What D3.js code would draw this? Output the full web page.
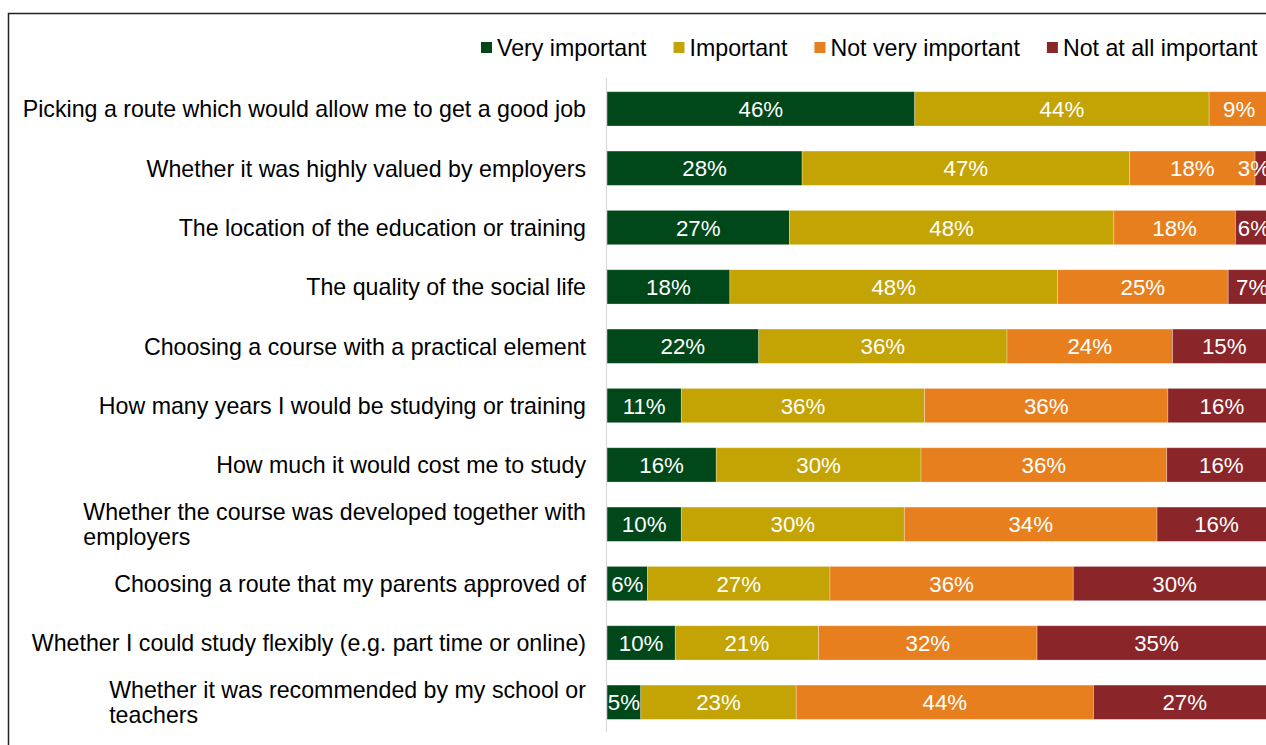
<!DOCTYPE html>
<html>
<head>
<meta charset="utf-8">
<script src="https://cdn.jsdelivr.net/npm/d3@7"></script>
<style>
  html, body { margin: 0; padding: 0; background: #fff; overflow: hidden; }
  svg { display: block; font-family: "Liberation Sans", Arial, sans-serif; }
</style>
</head>
<body>
<svg id="chart" width="1266" height="745"></svg>
<script>
const categories = [
  "Picking a route which would allow me to get a good job",
  "Whether it was highly valued by employers",
  "The location of the education or training",
  "The quality of the social life",
  "Choosing a course with a practical element",
  "How many years I would be studying or training",
  "How much it would cost me to study",
  "Whether the course was developed together with\nemployers",
  "Choosing a route that my parents approved of",
  "Whether I could study flexibly (e.g. part time or online)",
  "Whether it was recommended by my school or\nteachers"
];
const seriesNames = ["Very important", "Important", "Not very important", "Not at all important"];
const seriesColors = ["#00481A", "#C4A304", "#E87F1F", "#8A2529"];
const veryImportant    = [46, 28, 27, 18, 22, 11, 16, 10, 6, 10, 5];
const important        = [44, 47, 48, 48, 36, 36, 30, 30, 27, 21, 23];
const notVeryImportant = [9, 18, 18, 25, 24, 36, 36, 34, 36, 32, 44];
const notAtAll         = [1, 3, 6, 7, 15, 16, 16, 16, 30, 35, 27];

const seriesValues = [veryImportant, important, notVeryImportant, notAtAll];
const rows = categories.map((c, i) => {
  const r = { cat: c };
  seriesNames.forEach((s, j) => r[s] = seriesValues[j][i]);
  return r;
});

const svg = d3.select("#chart");
const plotLeft = 607, plotRight = 1276, plotTop = 79.2, plotBottom = 731.9;
const labelRightLimit = 1270;
const fontSize = 23.2;
const dataFontSize = 22.3;

// frame
svg.append("path")
  .attr("d", "M8.5,745 V13.5 H1266")
  .attr("fill", "none")
  .attr("stroke", "#222")
  .attr("stroke-width", 1.5);

const x = d3.scaleLinear().domain([0, 1]).range([plotLeft, plotRight]);
const y = d3.scaleBand().domain(categories).range([plotTop, plotBottom])
  .paddingInner(0.422).paddingOuter(0.211);

const stack = d3.stack().keys(seriesNames).offset(d3.stackOffsetExpand);
const stacked = stack(rows);

const g = svg.append("g");
stacked.forEach((layer, j) => {
  const lg = g.append("g").attr("fill", seriesColors[j]);
  lg.selectAll("rect").data(layer).join("rect")
    .attr("x", d => x(d[0]))
    .attr("y", d => y(d.data.cat))
    .attr("width", d => x(d[1]) - x(d[0]))
    .attr("height", y.bandwidth())
    .attr("stroke", "#fff")
    .attr("stroke-opacity", 0.35)
    .attr("stroke-width", 0.8);
});

// data labels
stacked.forEach((layer, j) => {
  const key = layer.key;
  layer.forEach(d => {
    const v = d.data[key];
    if (v < 2) return;
    const t = g.append("text")
      .attr("y", y(d.data.cat) + y.bandwidth() / 2)
      .attr("dy", "0.36em")
      .attr("text-anchor", "middle")
      .attr("fill", "#fff")
      .attr("font-size", dataFontSize)
      .text(v + "%");
    const w = t.node().getComputedTextLength();
    let cx = (x(d[0]) + x(d[1])) / 2;
    cx = Math.min(cx, labelRightLimit - w / 2);
    t.attr("x", cx);
  });
});

// vertical axis line
svg.append("line")
  .attr("x1", plotLeft - 0.5).attr("x2", plotLeft - 0.5)
  .attr("y1", 78).attr("y2", plotBottom)
  .attr("stroke", "#d9d9d9").attr("stroke-width", 1.2);

// category labels
const catRight = 586;
const lineH = 25;
categories.forEach(c => {
  const lines = c.split("\n");
  const cy = y(c) + y.bandwidth() / 2;
  const t = svg.append("text")
    .attr("font-size", fontSize)
    .attr("fill", "#000");
  lines.forEach((ln, k) => {
    t.append("tspan")
      .attr("x", 0)
      .attr("y", cy + (k - (lines.length - 1) / 2) * lineH)
      .attr("dy", "0.36em")
      .text(ln);
  });
  const maxW = d3.max(t.selectAll("tspan").nodes(), n => n.getComputedTextLength());
  t.selectAll("tspan").attr("x", catRight - maxW);
});

// legend
const legend = svg.append("g");
let lx = 481;
const ly = 47.5;
seriesNames.forEach((s, j) => {
  legend.append("rect")
    .attr("x", lx).attr("y", ly - 5.5)
    .attr("width", 11).attr("height", 11)
    .attr("fill", seriesColors[j]);
  const t = legend.append("text")
    .attr("x", lx + 16).attr("y", ly)
    .attr("dy", "0.36em")
    .attr("font-size", fontSize)
    .attr("fill", "#000")
    .text(s);
  lx += 16 + t.node().getComputedTextLength() + 27;
});
</script>
</body>
</html>
